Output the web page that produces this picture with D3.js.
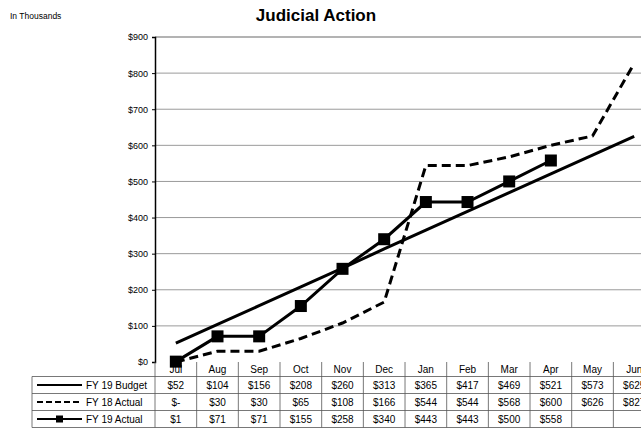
<!DOCTYPE html>
<html>
<head>
<meta charset="utf-8">
<script src="https://cdn.jsdelivr.net/npm/d3@7"></script>
<style>
body{margin:0;background:#fff;}
svg{display:block;font-family:"Liberation Sans",Arial,sans-serif;}
</style>
</head>
<body>
<svg id="chart_svg" width="641" height="430"></svg>
<script>
var months = ["Jul","Aug","Sep","Oct","Nov","Dec","Jan","Feb","Mar","Apr","May","Jun"];
var budgetFY19 = [52,104,156,208,260,313,365,417,469,521,573,625];
var actualFY18 = [0,30,30,65,108,166,544,544,568,600,626,827];
var actualFY19 = [1,71,71,155,258,340,443,443,500,558,null,null];
var yTicks = [0,100,200,300,400,500,600,700,800,900];

var seriesNames = ["FY 19 Budget","FY 18 Actual","FY 19 Actual"];
var seriesLabels = [
    budgetFY19.map(function(d){return "$"+d;}),
    actualFY18.map(function(d){return d===0 ? "$-" : "$"+d;}),
    actualFY19.map(function(d){return d===null ? "" : "$"+d;})
];

var svg, plotLeft=155, plotTop=37, plotBottom=362, colWidth=41.67, rowHeight=17;

document.addEventListener('DOMContentLoaded', function () {
    svg = d3.select("#chart_svg");

    var xScale = d3.scaleBand()
        .domain(months)
        .range([plotLeft, plotLeft+colWidth*months.length]);
    var yScale = d3.scaleLinear()
        .domain([0, 900])
        .range([plotBottom, plotTop]);

    //title
    svg.append("text")
        .attr("x", 316).attr("y", 21)
        .attr("text-anchor", "middle")
        .attr("font-size", "17px")
        .attr("font-weight", "bold")
        .text("Judicial Action");
    svg.append("text")
        .attr("x", 10).attr("y", 19)
        .attr("font-size", "8.5px")
        .text("In Thousands");

    //grid
    svg.append("g").selectAll("line")
        .data(yTicks.slice(1))
        .enter().append("line")
        .attr("x1", plotLeft).attr("x2", 641)
        .attr("y1", d => yScale(d)).attr("y2", d => yScale(d))
        .attr("stroke", "#9a9a9a")
        .attr("stroke-width", d => d==900 ? 1.5 : 1);

    //y axis
    var yAxis = d3.axisLeft(yScale)
        .tickValues(yTicks)
        .tickSize(3)
        .tickFormat(d => "$"+d);
    var gy = svg.append("g")
        .attr("transform", "translate("+plotLeft+",0)")
        .call(yAxis);
    gy.select(".domain").attr("stroke", "#000").attr("stroke-width", 1.5);
    gy.selectAll("text").attr("font-size", "9px").attr("font-family", "Liberation Sans, Arial, sans-serif").attr("x", -7);

    //table
    var tableRight = plotLeft+colWidth*months.length;
    var rowTop = plotBottom+14.5;
    var gTable = svg.append("g");
    months.forEach(function(m, i){
        var x = xScale(m);
        gTable.append("line")
            .attr("x1", x).attr("x2", x)
            .attr("y1", plotBottom).attr("y2", rowTop+3*rowHeight)
            .attr("stroke", "#555").attr("stroke-width", 0.8);
        gTable.append("text")
            .attr("x", x+colWidth/2).attr("y", plotBottom+10.5)
            .attr("text-anchor", "middle")
            .attr("font-size", "10px")
            .text(m);
    });
    for(let r=0; r<=3; r++){
        gTable.append("line")
            .attr("x1", 32).attr("x2", tableRight)
            .attr("y1", rowTop+r*rowHeight).attr("y2", rowTop+r*rowHeight)
            .attr("stroke", "#555").attr("stroke-width", 0.8);
    }
    gTable.append("line")
        .attr("x1", 32).attr("x2", 32)
        .attr("y1", rowTop).attr("y2", rowTop+3*rowHeight)
        .attr("stroke", "#555").attr("stroke-width", 0.8);

    seriesNames.forEach(function(name, r){
        var cy = rowTop+r*rowHeight+rowHeight/2;
        var leg = gTable.append("line")
            .attr("x1", 37).attr("x2", 82)
            .attr("y1", cy).attr("y2", cy)
            .attr("stroke", "#000").attr("stroke-width", 2);
        if(r==1) leg.attr("stroke-dasharray", "6,3");
        if(r==2){
            gTable.append("rect")
                .attr("x", 56).attr("y", cy-3.5)
                .attr("width", 7).attr("height", 7)
                .attr("fill", "#000");
        }
        gTable.append("text")
            .attr("x", 86).attr("y", cy+3.5)
            .attr("font-size", "10px")
            .text(name);
        gTable.selectAll(".cell"+r)
            .data(seriesLabels[r])
            .enter().append("text")
            .attr("x", (d, i) => xScale(months[i])+colWidth/2)
            .attr("y", cy+3.5)
            .attr("text-anchor", "middle")
            .attr("font-size", "10px")
            .text(d => d);
    });

    //lines
    var line = d3.line()
        .defined(d => d.v !== null)
        .x(d => xScale(d.m)+colWidth/2)
        .y(d => yScale(d.v));
    function toPts(arr){ return arr.map((v, i) => ({m: months[i], v: v})); }

    svg.append("path")
        .datum(toPts(budgetFY19))
        .attr("d", line)
        .attr("fill", "none").attr("stroke", "#000").attr("stroke-width", 3);
    svg.append("path")
        .datum(toPts(actualFY18))
        .attr("d", line)
        .attr("fill", "none").attr("stroke", "#000").attr("stroke-width", 3)
        .attr("stroke-dasharray", "9,5");
    svg.append("path")
        .datum(toPts(actualFY19))
        .attr("d", line)
        .attr("fill", "none").attr("stroke", "#000").attr("stroke-width", 3);
    svg.append("g").selectAll("rect")
        .data(toPts(actualFY19).filter(d => d.v !== null))
        .enter().append("rect")
        .attr("x", d => xScale(d.m)+colWidth/2-6)
        .attr("y", d => yScale(d.v)-6)
        .attr("width", 12).attr("height", 12)
        .attr("fill", "#000");
});
</script>
</body>
</html>
